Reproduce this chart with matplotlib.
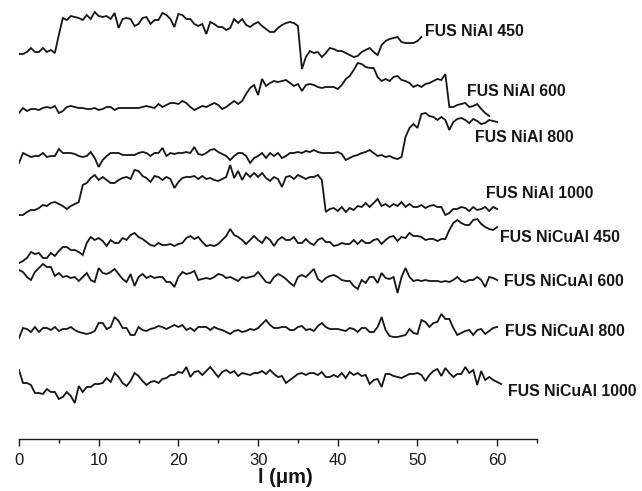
import numpy as np
import matplotlib
matplotlib.use("Agg")
import matplotlib.pyplot as plt
from matplotlib.ticker import MultipleLocator

# sampling step along the line scan (um)
step = 0.5

# intensity traces (a.u., already stacked as drawn), read at 0.5 um intervals from 0 um
nial_450 = [385, 385, 387, 391, 387, 387, 391, 387, 389, 386,
            404, 421, 419, 423, 422, 421, 419, 424, 420, 427,
            423, 422, 423, 420, 426, 411, 420, 421, 420, 413,
            415, 421, 422, 415, 419, 419, 426, 424, 420, 412,
            425, 424, 420, 420, 415, 413, 415, 405, 417, 415,
            412, 412, 409, 411, 420, 416, 420, 414, 412, 415,
            417, 413, 410, 407, 407, 411, 414, 416, 417, 416,
            413, 370, 382, 388, 386, 387, 382, 386, 391, 390,
            388, 388, 386, 384, 382, 383, 387, 389, 391, 387,
            384, 394, 398, 400, 401, 402, 397, 396, 396, 396,
            398, 402]

nial_600 = [326, 331, 328, 330, 330, 329, 331, 332, 331, 333,
            326, 328, 332, 333, 332, 331, 331, 330, 330, 331,
            329, 330, 332, 332, 329, 331, 331, 331, 331, 331,
            331, 332, 333, 332, 331, 335, 332, 334, 336, 336,
            335, 338, 336, 332, 329, 331, 333, 332, 334, 336,
            334, 330, 332, 335, 338, 335, 338, 345, 351, 354,
            344, 360, 353, 356, 358, 357, 358, 359, 356, 353,
            355, 348, 354, 355, 354, 352, 351, 352, 352, 352,
            350, 354, 360, 363, 369, 376, 375, 372, 371, 371,
            362, 358, 360, 358, 362, 363, 359, 358, 356, 352,
            354, 352, 355, 356, 358, 360, 359, 365, 332, 332,
            334, 335, 336, 332, 333, 335, 330, 326, 323]

nial_800 = [276, 286, 284, 282, 283, 283, 286, 282, 283, 283,
            290, 286, 286, 286, 285, 283, 282, 283, 287, 281,
            272, 279, 283, 286, 286, 286, 284, 284, 284, 284,
            286, 287, 286, 283, 286, 286, 291, 283, 286, 285,
            286, 286, 287, 286, 292, 285, 284, 286, 289, 290,
            287, 285, 283, 279, 283, 286, 286, 283, 276, 281,
            283, 286, 281, 286, 283, 286, 281, 283, 286, 286,
            287, 286, 288, 287, 289, 287, 286, 286, 286, 286,
            287, 285, 279, 281, 283, 284, 286, 287, 289, 286,
            283, 284, 282, 283, 281, 280, 282, 302, 311, 315,
            311, 325, 326, 323, 322, 319, 322, 319, 309, 317,
            320, 321, 319, 316, 320, 318, 315, 316, 319, 318,
            317]

nial_1000 = [224, 224, 227, 229, 229, 231, 234, 233, 236, 237,
             235, 233, 230, 233, 235, 237, 254, 256, 261, 264,
             259, 262, 259, 256, 256, 259, 261, 262, 260, 269,
             268, 263, 261, 257, 263, 262, 259, 262, 260, 251,
             257, 261, 262, 262, 263, 260, 263, 260, 261, 259,
             258, 260, 262, 274, 261, 268, 259, 266, 262, 266,
             262, 266, 261, 258, 262, 260, 252, 262, 263, 260,
             264, 262, 260, 262, 262, 264, 259, 227, 230, 231,
             228, 232, 227, 231, 229, 233, 232, 236, 232, 236,
             240, 233, 235, 232, 235, 233, 237, 232, 235, 232,
             232, 234, 231, 233, 234, 232, 232, 224, 226, 230,
             230, 232, 231, 228, 232, 229, 230, 232, 228, 232,
             230]

nicual_450 = [176, 178, 181, 187, 185, 186, 181, 181, 186, 183,
              188, 192, 192, 189, 189, 187, 184, 196, 202, 199,
              201, 198, 193, 199, 196, 196, 201, 199, 204, 206,
              202, 200, 197, 194, 193, 196, 194, 194, 195, 193,
              195, 196, 201, 203, 200, 202, 197, 193, 194, 193,
              195, 199, 203, 210, 204, 202, 199, 195, 199, 203,
              199, 196, 202, 199, 193, 199, 202, 199, 199, 202,
              196, 196, 200, 196, 194, 199, 201, 197, 197, 193,
              194, 196, 195, 195, 199, 195, 199, 196, 196, 199,
              200, 195, 199, 202, 203, 198, 202, 201, 206, 203,
              203, 202, 199, 200, 200, 198, 200, 200, 209, 216,
              219, 216, 214, 214, 219, 220, 215, 212, 210, 209,
              212]

nicual_600 = [169, 167, 162, 159, 167, 171, 175, 172, 172, 163,
              166, 162, 163, 161, 162, 158, 162, 166, 159, 157,
              171, 166, 165, 167, 170, 165, 160, 157, 165, 153,
              162, 165, 161, 163, 161, 162, 162, 157, 157, 152,
              162, 167, 165, 166, 168, 159, 160, 161, 160, 162,
              165, 164, 161, 162, 160, 158, 162, 161, 162, 163,
              167, 162, 157, 156, 162, 165, 163, 160, 156, 153,
              162, 164, 162, 166, 170, 160, 157, 161, 163, 164,
              162, 159, 158, 158, 153, 150, 159, 156, 162, 162,
              156, 166, 161, 160, 162, 146, 162, 171, 162, 158,
              159, 158, 159, 158, 158, 158, 157, 158, 157, 159,
              162, 158, 157, 159, 159, 162, 159, 152, 162, 161,
              159]

nicual_800 = [101, 111, 110, 107, 112, 107, 111, 111, 109, 112,
              108, 110, 110, 112, 109, 107, 106, 105, 106, 108,
              116, 116, 110, 112, 122, 118, 111, 111, 104, 104,
              112, 109, 108, 110, 111, 113, 112, 110, 112, 114,
              112, 114, 109, 111, 108, 112, 112, 112, 109, 112,
              110, 109, 107, 105, 108, 109, 107, 108, 110, 109,
              111, 115, 119, 114, 111, 111, 112, 112, 109, 109,
              112, 113, 109, 110, 108, 113, 116, 112, 110, 110,
              110, 109, 108, 111, 110, 107, 111, 111, 107, 107,
              112, 122, 109, 103, 102, 102, 103, 104, 110, 106,
              105, 119, 117, 112, 116, 117, 125, 120, 120, 111,
              104, 106, 108, 109, 104, 109, 110, 105, 108, 111,
              112]

nicual_1000 = [69, 56, 56, 54, 46, 46, 45, 50, 47, 47,
               40, 42, 47, 43, 36, 53, 47, 52, 52, 55,
               55, 56, 61, 57, 66, 62, 56, 53, 58, 66,
               63, 58, 54, 57, 58, 56, 60, 61, 64, 64,
               67, 66, 72, 62, 67, 68, 64, 68, 72, 67,
               62, 67, 69, 66, 68, 63, 66, 65, 64, 66,
               66, 68, 65, 69, 65, 62, 63, 56, 59, 62,
               65, 66, 64, 66, 66, 64, 67, 62, 62, 64,
               62, 66, 61, 67, 64, 66, 63, 64, 55, 59,
               60, 52, 65, 65, 63, 62, 61, 63, 65, 65,
               66, 64, 58, 64, 68, 70, 63, 71, 66, 62,
               65, 65, 72, 66, 69, 54, 68, 59, 62, 59,
               57, 55]

series = [nial_450, nial_600, nial_800, nial_1000,
          nicual_450, nicual_600, nicual_800, nicual_1000]
labels = ["FUS NiAl 450", "FUS NiAl 600", "FUS NiAl 800", "FUS NiAl 1000",
          "FUS NiCuAl 450", "FUS NiCuAl 600", "FUS NiCuAl 800", "FUS NiCuAl 1000"]
# label anchor (x in um, intensity a.u.)
label_x = [51.0, 56.2, 57.2, 58.6, 60.4, 60.8, 61.0, 61.3]
label_y = [407, 348, 302, 245, 201, 157, 107, 48]

xticks = [0, 10, 20, 30, 40, 50, 60]

fig = plt.figure(figsize=(6.42, 4.91), dpi=100)
ax = fig.add_axes([19 / 642, 1 - 439 / 491, 518 / 642, 439 / 491])

line_color = "#151515"
for vals in series:
    x = np.arange(len(vals)) * step
    ax.plot(x, vals, color=line_color, lw=1.3, solid_joinstyle="miter")

for lab, lx, ly in zip(labels, label_x, label_y):
    ax.text(lx, ly, lab, fontsize=11.4, fontweight="bold", family="Liberation Sans",
            va="center", ha="left", color="#151515", clip_on=False)

ax.set_xlim(0, 65)
ax.set_ylim(0, 439)
ax.set_xticks(xticks)
ax.xaxis.set_minor_locator(MultipleLocator(5))
ax.tick_params(axis="x", which="major", direction="out", length=5, width=1,
               labelsize=12, pad=5, colors="#1a1a1a")
ax.tick_params(axis="x", which="minor", direction="out", length=3, width=1, colors="#1a1a1a")
for t in ax.get_xticklabels():
    t.set_family("Liberation Sans")
ax.set_yticks([])
for s in ["left", "right", "top"]:
    ax.spines[s].set_visible(False)
ax.spines["bottom"].set_linewidth(1.0)
ax.spines["bottom"].set_color("#1a1a1a")

ax.set_xlabel("l (\u03bcm)", fontsize=14.5, fontweight="bold", family="Liberation Sans",
              color="#151515")
ax.xaxis.set_label_coords(0.514, -0.067)

fig.savefig("out.png", dpi=100)
